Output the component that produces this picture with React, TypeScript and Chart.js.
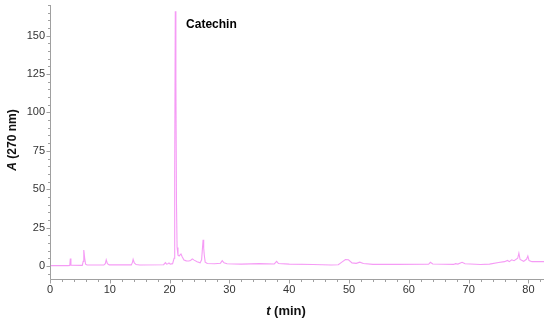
import React, { useEffect, useRef } from "react";
import { Chart, registerables } from "chart.js";

Chart.register(...registerables);

// Retention time (min)
const times = [
  0, 3.0, 3.3, 3.4, 3.5, 5.4, 5.55, 5.65, 5.8, 5.95, 6.2, 9.0, 9.25, 9.4, 9.6, 9.9,
  13.6, 13.8, 13.9, 14.1, 14.4, 15, 19.0, 19.3, 19.5, 19.7, 19.9, 20.1, 20.5, 20.75,
  20.85, 20.95, 21.05, 21.15, 21.25, 21.4, 21.6, 21.9, 22.1, 22.4, 22.8, 23.2, 23.5,
  23.8, 24.1, 24.6, 25.1, 25.35, 25.5, 25.6, 25.7, 25.8, 25.95, 26.3, 27.5, 28.5,
  28.8, 29.1, 29.6, 32, 35, 37.5, 37.9, 38.2, 40, 44, 47, 48.2, 48.8, 49.4, 49.9,
  50.5, 51.2, 51.8, 52.4, 54, 58, 63.3, 63.6, 64.0, 67.5, 67.8, 68.2, 68.9, 69.4,
  72, 73.5, 75, 76.0, 76.5, 76.8, 77.2, 77.6, 78.2, 78.4, 78.6, 79.2, 79.7, 79.9,
  80.1, 80.6, 82.6,
];

// Absorbance at 270 nm
const absorbance = [
  0.2, 0.2, 0.3, 4.8, 0.5, 0.4, 3, 10.4, 5, 1.2, 0.6, 0.6, 1.5, 4.0, 1.5, 0.7,
  0.7, 2.5, 4.3, 2, 0.9, 0.6, 0.8, 2.2, 1.2, 1.5, 2.0, 1.2, 1.5, 5,
  60, 166, 120, 40, 12, 7, 6.5, 7.8, 6, 3.8, 3.3, 3.2, 3.6,
  4.6, 3.8, 2.8, 2.0, 4, 12, 17, 11.5, 7, 2.5, 1.6, 1.4, 1.8,
  3.4, 2.0, 1.4, 1.2, 1.5, 1.3, 3.0, 1.6, 1.2, 0.9, 0.6, 0.8, 2.5, 4.2, 4.0,
  2.0, 1.7, 2.5, 1.6, 1.0, 1.0, 1.1, 2.4, 1.3, 1.0, 1.5, 1.2, 2.4, 1.4,
  0.9, 1.2, 2.3, 2.8, 3.6, 2.8, 4.0, 3.4, 5, 8.3, 4.2, 3.0, 4.5, 6.5,
  3.5, 2.8, 2.8,
];

const xTickValues = [0, 10, 20, 30, 40, 50, 60, 70, 80];
const yTickValues = [0, 25, 50, 75, 100, 125, 150];
const xMinorStep = 2;
const yMinorStep = 5;
const peakLabel = "Catechin";
const peakLabelTime = 22.75;
const peakLabelValue = 157;

const axisColor = "#a0a0a0";
const FONT = "'Liberation Sans', Arial, Helvetica, sans-serif";

const decorPlugin = {
  id: "decor",
  afterDraw(chart: any) {
    const ctx = chart.ctx;
    const { left, right, top, bottom } = chart.chartArea;
    const xs = chart.scales.x;
    const ys = chart.scales.y;
    ctx.save();
    ctx.strokeStyle = axisColor;
    ctx.lineWidth = 1;
    ctx.beginPath();
    ctx.moveTo(left + 0.5, top);
    ctx.lineTo(left + 0.5, bottom + 0.5);
    ctx.lineTo(right, bottom + 0.5);
    ctx.stroke();
    ctx.beginPath();
    for (let v = -5; v <= ys.max + 1e-6; v += yMinorStep) {
      const py = Math.round(ys.getPixelForValue(v)) + 0.5;
      const major = v % 25 === 0;
      ctx.moveTo(left + 0.5, py);
      ctx.lineTo(left + 0.5 - (major ? 4 : 2.5), py);
    }
    for (let v = 0; v <= xs.max + 1e-6; v += xMinorStep) {
      const px = Math.round(xs.getPixelForValue(v)) + 0.5;
      const major = v % 10 === 0;
      ctx.moveTo(px, bottom + 0.5);
      ctx.lineTo(px, bottom + 0.5 + (major ? 4 : 2.5));
    }
    ctx.stroke();

    ctx.fillStyle = "#111";
    ctx.textBaseline = "middle";
    const xtY = 311;
    ctx.font = `italic bold 13px ${FONT}`;
    const tW = ctx.measureText("t").width;
    ctx.font = `bold 13px ${FONT}`;
    const restW = ctx.measureText(" (min)").width;
    const sx = 286 - (tW + restW) / 2;
    ctx.textAlign = "left";
    ctx.font = `italic bold 13px ${FONT}`;
    ctx.fillText("t", sx, xtY);
    ctx.font = `bold 13px ${FONT}`;
    ctx.fillText(" (min)", sx + tW, xtY);

    ctx.save();
    ctx.translate(12.5, 140);
    ctx.rotate(-Math.PI / 2);
    ctx.font = `italic bold 12px ${FONT}`;
    const aW = ctx.measureText("A").width;
    ctx.font = `bold 12px ${FONT}`;
    const r2 = ctx.measureText(" (270 nm)").width;
    const sy = -(aW + r2) / 2;
    ctx.font = `italic bold 12px ${FONT}`;
    ctx.fillText("A", sy, 0);
    ctx.font = `bold 12px ${FONT}`;
    ctx.fillText(" (270 nm)", sy + aW, 0);
    ctx.restore();

    ctx.font = `bold 12px ${FONT}`;
    ctx.fillStyle = "#000";
    ctx.fillText(peakLabel, xs.getPixelForValue(peakLabelTime), ys.getPixelForValue(peakLabelValue));
    ctx.restore();
  },
};

export default function App() {
  const ref = useRef<HTMLCanvasElement | null>(null);
  useEffect(() => {
    if (!ref.current) return;
    const chart = new Chart(ref.current, {
      type: "line",
      data: {
        datasets: [
          {
            data: times.map((t, i) => ({ x: t, y: absorbance[i] })),
            borderColor: "rgba(242,130,242,0.8)",
            borderWidth: 1.1,
            pointRadius: 0,
            tension: 0,
            fill: false,
          },
        ],
      },
      options: {
        animation: false,
        responsive: false,
        maintainAspectRatio: false,
        layout: { padding: { left: 0, top: 5, right: 6, bottom: 0 } },
        plugins: { legend: { display: false }, tooltip: { enabled: false } },
        scales: {
          x: {
            type: "linear",
            min: 0,
            max: 82.6,
            grid: { display: false, drawTicks: false },
            border: { display: false },
            ticks: { font: { family: FONT, size: 11 }, color: "#333", padding: 4, maxRotation: 0 },
            afterBuildTicks: (s: any) => {
              s.ticks = xTickValues.map((v) => ({ value: v }));
            },
            afterFit: (s: any) => {
              s.height = 43;
              s.paddingLeft = 0;
              s.paddingRight = 0;
            },
          },
          y: {
            min: -8.5,
            max: 170,
            grid: { display: false, drawTicks: false },
            border: { display: false },
            ticks: { font: { family: FONT, size: 11 }, color: "#333", padding: 5 },
            afterBuildTicks: (s: any) => {
              s.ticks = yTickValues.map((v) => ({ value: v }));
            },
            afterFit: (s: any) => {
              s.width = 50;
              s.paddingTop = 0;
              s.paddingBottom = 0;
            },
          },
        },
      },
      plugins: [decorPlugin],
    });
    return () => chart.destroy();
  }, []);
  return (
    <div style={{ position: "absolute", left: 0, top: 0, width: 550, height: 322, background: "#fff" }}>
      <canvas ref={ref} width={550} height={322} />
    </div>
  );
}
